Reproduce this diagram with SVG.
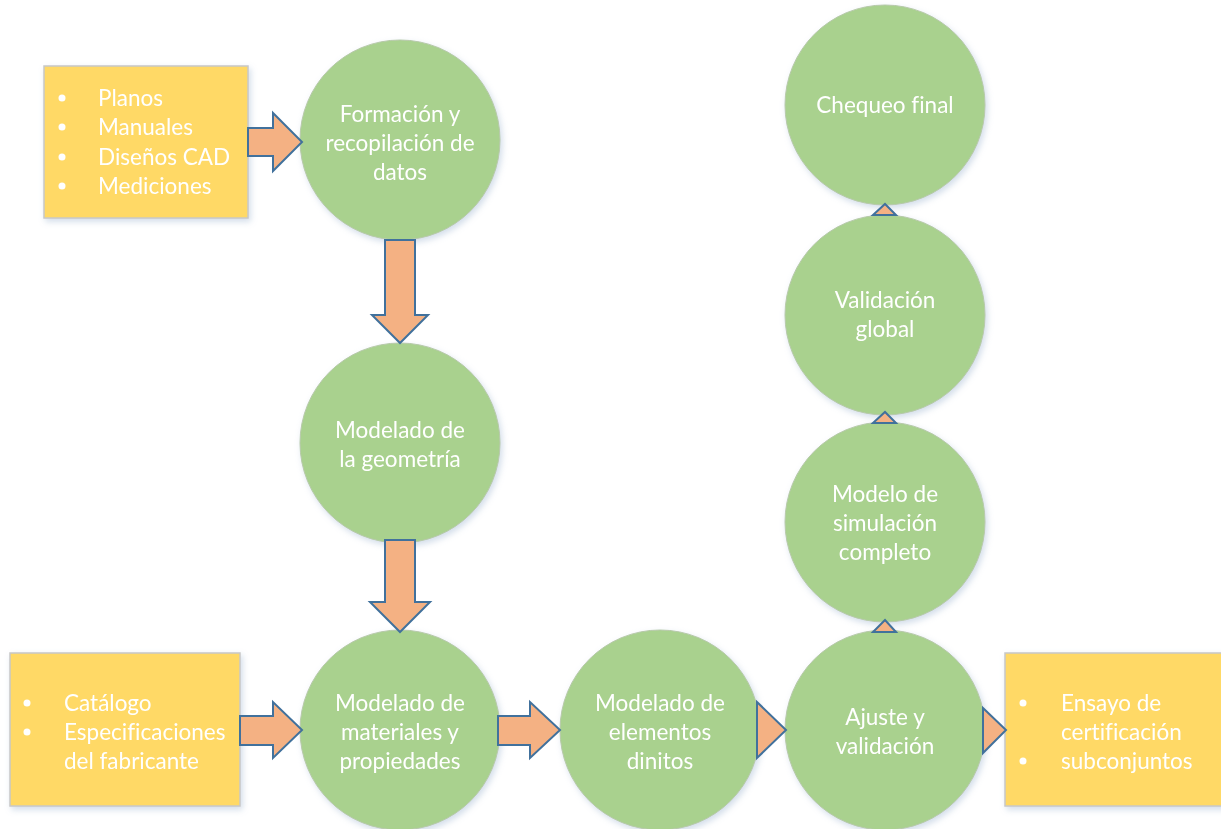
<svg xmlns="http://www.w3.org/2000/svg" width="1221" height="829" viewBox="0 0 1221 829">
<defs>
<style>
.node{fill:#A9D18E;stroke:#B7C9AA;stroke-width:1}
.box{fill:#FFD966;stroke:#C8C8C8;stroke-width:1.5}
.arr{fill:#F4B183;stroke:#41719C;stroke-width:2;stroke-linejoin:miter}
.t{font-family:Lato,"Open Sans","Liberation Sans",sans-serif;font-size:22.5px;fill:#FFFFFF;text-anchor:middle;font-variant-ligatures:none}
.bt{font-family:Lato,"Open Sans","Liberation Sans",sans-serif;font-size:22.5px;fill:#FFFFFF;font-variant-ligatures:none}
.dot{fill:#FFFFFF}
</style>
<filter id="sh" x="-10%" y="-10%" width="125%" height="125%">
<feGaussianBlur in="SourceAlpha" stdDeviation="3"/>
<feOffset dx="2" dy="3" result="b"/>
<feFlood flood-color="#9DB4D0" flood-opacity="0.45"/>
<feComposite in2="b" operator="in"/>
<feMerge><feMergeNode/><feMergeNode in="SourceGraphic"/></feMerge>
</filter>
</defs>
<rect width="1221" height="829" fill="#FFFFFF"/>

<g id="box-planos" filter="url(#sh)">
<rect class="box" x="44" y="66" width="204" height="152"/>
<circle class="dot" cx="62" cy="98" r="3.5"/><text class="bt" x="98" y="106">Planos</text>
<circle class="dot" cx="62" cy="127" r="3.5"/><text class="bt" x="98" y="135">Manuales</text>
<circle class="dot" cx="62" cy="157" r="3.5"/><text class="bt" x="98" y="165">Diseños CAD</text>
<circle class="dot" cx="62" cy="186" r="3.5"/><text class="bt" x="98" y="194">Mediciones</text>
</g>

<g id="box-catalogo" filter="url(#sh)">
<rect class="box" x="10" y="653" width="230" height="153"/>
<circle class="dot" cx="27" cy="703" r="3.5"/><text class="bt" x="64" y="711">Catálogo</text>
<circle class="dot" cx="27" cy="732" r="3.5"/><text class="bt" x="64" y="740">Especificaciones</text>
<text class="bt" x="64" y="769">del fabricante</text>
</g>

<g id="box-ensayo" filter="url(#sh)">
<rect class="box" x="1005" y="653" width="220" height="153"/>
<circle class="dot" cx="1023" cy="703" r="3.5"/><text class="bt" x="1061" y="711">Ensayo de</text>
<text class="bt" x="1061" y="740">certificación</text>
<circle class="dot" cx="1023" cy="761" r="3.5"/><text class="bt" x="1061" y="769">subconjuntos</text>
</g>

<g id="n-formacion" filter="url(#sh)">
<circle class="node" cx="400" cy="140" r="100"/>
<text class="t" x="400" y="122">Formación y</text>
<text class="t" x="400" y="151">recopilación de</text>
<text class="t" x="400" y="180">datos</text>
</g>

<g id="n-geometria" filter="url(#sh)">
<circle class="node" cx="400" cy="443" r="100"/>
<text class="t" x="400" y="438">Modelado de</text>
<text class="t" x="400" y="467">la geometría</text>
</g>

<g id="n-materiales" filter="url(#sh)">
<circle class="node" cx="400" cy="730" r="100"/>
<text class="t" x="400" y="711">Modelado de</text>
<text class="t" x="400" y="740">materiales y</text>
<text class="t" x="400" y="769">propiedades</text>
</g>

<g id="n-elementos" filter="url(#sh)">
<circle class="node" cx="660" cy="730" r="100"/>
<text class="t" x="660" y="711">Modelado de</text>
<text class="t" x="660" y="740">elementos</text>
<text class="t" x="660" y="769">dinitos</text>
</g>

<g id="n-ajuste" filter="url(#sh)">
<circle class="node" cx="885" cy="730" r="100"/>
<text class="t" x="885" y="725">Ajuste y</text>
<text class="t" x="885" y="754">validación</text>
</g>

<g id="n-simulacion" filter="url(#sh)">
<circle class="node" cx="885" cy="522" r="100"/>
<text class="t" x="885" y="502">Modelo de</text>
<text class="t" x="885" y="531">simulación</text>
<text class="t" x="885" y="560">completo</text>
</g>

<g id="n-validacion" filter="url(#sh)">
<circle class="node" cx="885" cy="315" r="100"/>
<text class="t" x="885" y="308">Validación</text>
<text class="t" x="885" y="337">global</text>
</g>

<g id="n-chequeo" filter="url(#sh)">
<circle class="node" cx="885" cy="105" r="100"/>
<text class="t" x="885" y="113">Chequeo final</text>
</g>

<g id="connectors">
<polygon class="arr" points="248,128 273,128 273,113 302,142 273,171 273,156 248,156"/>
<polygon class="arr" points="385,240 415,240 415,315 428,315 400,343 372,315 385,315"/>
<polygon class="arr" points="385,540 415,540 415,602 430,602 400,632 370,602 385,602"/>
<polygon class="arr" points="240,716 273,716 273,702 302,730 273,758 273,745 240,745"/>
<polygon class="arr" points="498,716 530,716 530,702 560,730 530,758 530,745 498,745"/>
<polygon class="arr" points="757,702 786,730 757,758"/>
<polygon class="arr" points="983,708 1006,730 983,753"/>
<polygon class="arr" points="873,632 896,632 885,620"/>
<polygon class="arr" points="873,423 896,423 885,412"/>
<polygon class="arr" points="873,215 896,215 885,204"/>
</g>
</svg>
